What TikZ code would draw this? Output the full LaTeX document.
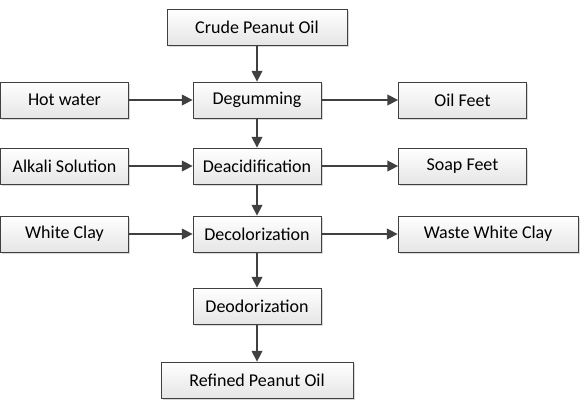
\documentclass[tikz,border=0pt]{standalone}
\usepackage{fontspec}
\setmainfont{Carlito}
\usetikzlibrary{arrows.meta,shadows}

\begin{document}
\begin{tikzpicture}
[ x=0.75pt, y=-0.75pt
, font=\fontsize{13.5}{16}\selectfont
, step box/.style={rectangle, draw=black!75, line width=0.6pt, minimum height=27pt,
    top color=white, bottom color=black!10,
    drop shadow={shadow xshift=1.2pt, shadow yshift=-1.2pt, opacity=0.25, fill=black!60}}
, small box/.style={step box, minimum width=96pt}
, wide box/.style={step box, minimum width=135pt}
, flow/.style={draw=black!75, line width=1.1pt, -{Triangle[length=8pt,width=8pt]}}
]
\useasboundingbox (0,0) rectangle (580,410);
% Main column:
\node (crude) [wide box] at (257,27) {Crude Peanut Oil};
\node (degum) [small box] at (257,100) {Degumming};
\node (deacid) [small box] at (257,166) {Deacidification};
\node (decol) [small box] at (257,234) {Decolorization};
\node (deodor) [small box] at (257,306) {Deodorization};
\node (refined) [step box, minimum width=144pt] at (257,380) {Refined Peanut Oil};
% Inputs on the left:
\node (hot) [small box] at (64.5,100) {Hot water};
\node (alkali) [small box] at (64.5,166) {Alkali Solution};
\node (white) [small box] at (64.5,234) {White Clay};
% Outputs on the right:
\node (oil) [small box] at (462.5,100) {Oil Feet};
\node (soap) [small box] at (462.5,166) {Soap Feet};
\node (waste) [wide box] at (488,234) {Waste White Clay};
\draw [flow] (crude) -- (degum);
\draw [flow] (degum) -- (deacid);
\draw [flow] (deacid) -- (decol);
\draw [flow] (decol) -- (deodor);
\draw [flow] (deodor) -- (refined);
\draw [flow] (hot) -- (degum);
\draw [flow] (alkali) -- (deacid);
\draw [flow] (white) -- (decol);
\draw [flow] (degum) -- (oil);
\draw [flow] (deacid) -- (soap);
\draw [flow] (decol) -- (waste);
\end{tikzpicture}
\end{document}
